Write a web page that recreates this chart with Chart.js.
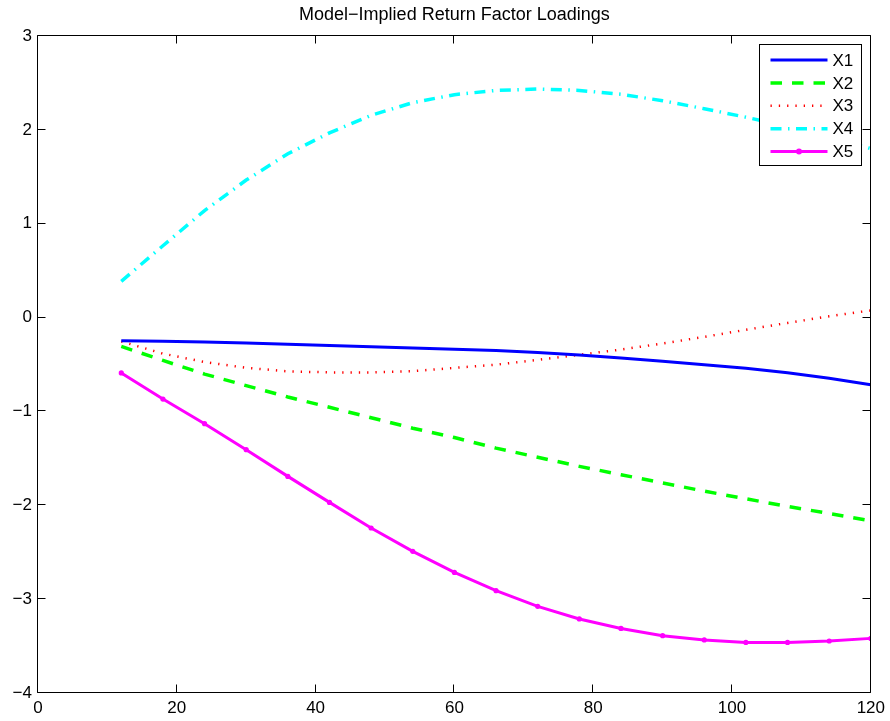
<!DOCTYPE html>
<html>
<head>
<meta charset="utf-8">
<title>Model−Implied Return Factor Loadings</title>
<script src="https://cdn.jsdelivr.net/npm/chart.js@4.4.1/dist/chart.umd.min.js"></script>
<style>
  html, body { margin: 0; padding: 0; background: #ffffff; }
  #wrap { width: 890px; height: 721px; }
</style>
</head>
<body>
<div id="wrap"><canvas id="chart" width="890" height="721"></canvas></div>
<script>
// Maturities (months) at which the loadings are evaluated
const maturities = [12, 18, 24, 30, 36, 42, 48, 54, 60, 66, 72, 78, 84, 90, 96, 102, 108, 114, 120];

// Return loadings on each factor
const x1 = [-0.246, -0.252, -0.260, -0.271, -0.284, -0.297, -0.311, -0.324, -0.337, -0.352,
            -0.372, -0.400, -0.432, -0.465, -0.502, -0.541, -0.587, -0.646, -0.715];
const x2 = [-0.307, -0.457, -0.602, -0.725, -0.846, -0.956, -1.067, -1.179, -1.278, -1.391,
            -1.488, -1.585, -1.674, -1.762, -1.849, -1.931, -2.012, -2.087, -2.165];
const x3 = [-0.254, -0.384, -0.474, -0.535, -0.573, -0.584, -0.584, -0.571, -0.536, -0.502,
            -0.451, -0.396, -0.341, -0.276, -0.206, -0.130, -0.057, 0.014, 0.076];
const x4 = [0.386, 0.765, 1.140, 1.465, 1.745, 1.968, 2.155, 2.290, 2.375, 2.420,
            2.435, 2.420, 2.380, 2.310, 2.225, 2.135, 2.035, 1.925, 1.800];
const x5 = [-0.590, -0.868, -1.131, -1.408, -1.692, -1.969, -2.242, -2.491, -2.715, -2.910,
            -3.077, -3.211, -3.312, -3.389, -3.435, -3.461, -3.461, -3.446, -3.418];

const seriesNames = ['X1', 'X2', 'X3', 'X4', 'X5'];
const xTickValues = [0, 20, 40, 60, 80, 100, 120];
const yTickValues = [-4, -3, -2, -1, 0, 1, 2, 3];
const chartTitle = 'Model\u2212Implied Return Factor Loadings';

const FONT = "'Liberation Sans', Arial, Helvetica, sans-serif";

const toPoints = vals => maturities.map((m, i) => ({ x: m, y: vals[i] }));

const datasets = [
  { label: seriesNames[0], data: toPoints(x1), borderColor: '#0000ff', borderWidth: 3,
    borderDash: [], pointRadius: 0 },
  { label: seriesNames[1], data: toPoints(x2), borderColor: '#00ff00', borderWidth: 3.5,
    borderDash: [11.5, 10], pointRadius: 0 },
  { label: seriesNames[2], data: toPoints(x3), borderColor: '#ff0000', borderWidth: 2.5,
    borderDash: [1.3, 7], pointRadius: 0 },
  { label: seriesNames[3], data: toPoints(x4), borderColor: '#00ffff', borderWidth: 3.5,
    borderDash: [11, 6.5, 1.5, 6.5], pointRadius: 0 },
  { label: seriesNames[4], data: toPoints(x5), borderColor: '#ff00ff', borderWidth: 3,
    borderDash: [], pointRadius: 2.6, pointBackgroundColor: '#ff00ff',
    pointBorderWidth: 0, pointStyle: 'circle' }
];
datasets.forEach(d => { d.fill = false; d.tension = 0; d.borderCapStyle = 'butt'; });

const fmtTick = v => (v < 0 ? '\u2212' + Math.abs(v) : String(v));

// Axes box with inward tick marks on all four sides
const boxPlugin = {
  id: 'axesBox',
  afterDatasetsDraw(chart) {
    const { ctx, chartArea: a, scales } = chart;
    const L = Math.round(a.left) - 0.5, R = Math.round(a.right) - 0.5;
    const T = Math.round(a.top) - 0.5, B = Math.round(a.bottom) - 0.5;
    const len = 8;
    ctx.save();
    ctx.strokeStyle = '#000000';
    ctx.lineWidth = 1;
    ctx.beginPath();
    ctx.rect(L, T, R - L, B - T);
    xTickValues.forEach(v => {
      const px = Math.round(scales.x.getPixelForValue(v)) - 0.5;
      ctx.moveTo(px, B); ctx.lineTo(px, B - len);
      ctx.moveTo(px, T); ctx.lineTo(px, T + len);
    });
    yTickValues.forEach(v => {
      const py = Math.round(scales.y.getPixelForValue(v)) - 0.5;
      ctx.moveTo(L, py); ctx.lineTo(L + len, py);
      ctx.moveTo(R, py); ctx.lineTo(R - len, py);
    });
    ctx.stroke();
    ctx.restore();
  }
};

// Boxed legend in the upper right corner of the plot area
const legendPlugin = {
  id: 'boxLegend',
  afterDraw(chart) {
    const { ctx, chartArea: a } = chart;
    const w = 102, h = 121;
    const right = Math.round(a.right) - 9.5;
    const top = Math.round(a.top) + 8.5;
    const left = right - w;
    const rowStart = top + 15.5, rowStep = 22.9;
    ctx.save();
    ctx.fillStyle = '#ffffff';
    ctx.fillRect(left, top, w, h);
    ctx.strokeStyle = '#000000';
    ctx.lineWidth = 1;
    ctx.strokeRect(left, top, w, h);
    chart.data.datasets.forEach((ds, i) => {
      const y = rowStart + i * rowStep;
      const x0 = left + 11, x1s = left + 68;
      ctx.save();
      ctx.strokeStyle = ds.borderColor;
      ctx.lineWidth = ds.borderWidth;
      ctx.lineCap = 'butt';
      ctx.setLineDash(ds.borderDash || []);
      ctx.beginPath();
      ctx.moveTo(x0, y);
      ctx.lineTo(x1s, y);
      ctx.stroke();
      if (ds.pointRadius > 0) {
        ctx.fillStyle = ds.pointBackgroundColor;
        ctx.beginPath();
        ctx.arc((x0 + x1s) / 2, y, ds.pointRadius + 0.4, 0, Math.PI * 2);
        ctx.fill();
      }
      ctx.restore();
      ctx.fillStyle = '#000000';
      ctx.font = '17px ' + FONT;
      ctx.textAlign = 'left';
      ctx.textBaseline = 'middle';
      ctx.fillText(ds.label, left + 73, y + 1);
    });
    ctx.restore();
  }
};

new Chart(document.getElementById('chart'), {
  type: 'line',
  data: { datasets },
  plugins: [boxPlugin, legendPlugin],
  options: {
    responsive: false,
    animation: false,
    devicePixelRatio: 1,
    layout: { padding: { left: 0, right: 19, top: 0, bottom: 0 } },
    plugins: {
      legend: { display: false },
      tooltip: { enabled: false },
      title: {
        display: true,
        fullSize: false,
        text: chartTitle,
        color: '#000000',
        font: { family: FONT, size: 18, weight: 'normal', lineHeight: 1.2 },
        padding: { top: 4.2, bottom: 10.2 }
      }
    },
    scales: {
      x: {
        type: 'linear',
        min: 0, max: 120,
        grid: { display: false, drawTicks: false },
        border: { display: false },
        ticks: {
          color: '#000000', padding: 5, autoSkip: false, maxRotation: 0,
          font: { family: FONT, size: 17 },
          callback: v => fmtTick(v)
        },
        afterBuildTicks: s => { s.ticks = xTickValues.map(v => ({ value: v })); },
        afterFit: s => { s.height = 28; }
      },
      y: {
        type: 'linear',
        min: -4, max: 3,
        grid: { display: false, drawTicks: false },
        border: { display: false },
        ticks: {
          color: '#000000', padding: 6, autoSkip: false,
          font: { family: FONT, size: 17 },
          callback: v => fmtTick(v)
        },
        afterBuildTicks: s => { s.ticks = yTickValues.map(v => ({ value: v })); },
        afterFit: s => { s.width = 38; }
      }
    }
  }
});
</script>
</body>
</html>
